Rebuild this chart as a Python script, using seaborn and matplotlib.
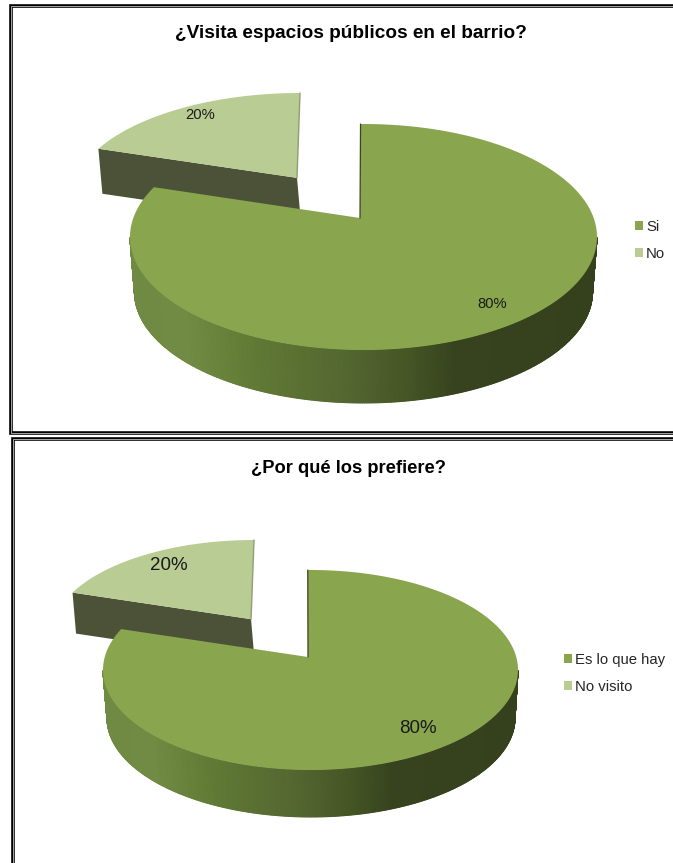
import numpy as np
import matplotlib
matplotlib.use("Agg")
import matplotlib.pyplot as plt
from matplotlib.colors import LinearSegmentedColormap
from matplotlib.patches import Patch
import seaborn as sns

# Survey answers, in percent
visita_labels = ["Si", "No"]
visita_values = [80, 20]
prefiere_labels = ["Es lo que hay", "No visito"]
prefiere_values = [80, 20]

TOP_GREEN = "#89A54E"
LIGHT_GREEN = "#B9CC94"
WALL_DARK = "#4C5237"
RIM_STOPS = ["#6F8A42", "#718B44", "#617A35", "#526530", "#455525", "#37431E", "#35401C"]
RIM_POS = [0.0, 0.12, 0.26, 0.48, 0.60, 0.70, 1.0]

sns.set_theme(style="white")
plt.rcParams["font.family"] = ["Liberation Sans", "DejaVu Sans"]
rim_cmap = LinearSegmentedColormap.from_list("rim", list(zip(RIM_POS, RIM_STOPS)))


def project(theta, radius, disc):
    """Map polar pie coordinates (clockwise from north) onto the tilted disc."""
    theta = np.asarray(theta, dtype=float) + disc.get("rot", 0.0)
    u, v = radius * np.sin(theta), radius * np.cos(theta)
    d = disc["shift"]
    denom = 1 + d * v
    up = u * np.sqrt(1 - d ** 2) / denom
    vp = (v + d) / denom
    x = disc["cx"] + disc["rx"] * up - disc.get("lean", 0) * (1 - vp)
    x = x + disc.get("apex_dx", 0) * (1 - radius)
    y = disc["cy"] - disc["ry"] * vp
    return x, y


def draw_rim(ax, stop, top, bottom):
    """Extruded outer wall of a slice, shaded smoothly from left to right."""
    # The wall shows only between the disc's two horizontal extremes
    rot = top.get("rot", 0.0)
    extreme = np.arccos(-top["shift"])
    first = extreme - rot
    last = min(stop, 2 * np.pi - extreme - rot)
    angles = np.linspace(first, last, 400)
    xt, yt = project(angles, 1.0, top)
    xb, yb = project(angles, 1.0, bottom)
    x0, x1 = top["cx"] - top["rx"], top["cx"] + top["rx"]
    shade = (xt - x0) / (x1 - x0)
    ax.pcolormesh(np.vstack([xt, xb]), np.vstack([yt, yb]), np.vstack([shade, shade]),
                  shading="gouraud", cmap=rim_cmap, vmin=0, vmax=1, zorder=3)


def draw_face(ax, start, stop, disc, color, zorder):
    angles = np.linspace(start, stop, 300)
    xs, ys = project(angles, 1.0, disc)
    ax_, ay_ = project(0.0, 0.0, disc)
    ax.fill(np.r_[ax_, xs], np.r_[ay_, ys], color=color, lw=0, zorder=zorder)


def draw_chart(ax, values, labels, geo, title, title_size, label_size, legend_anchor):
    total = sum(values)
    main_sweep = 2 * np.pi * values[0] / total
    main, main_low = geo["main"], geo["main_low"]
    small, small_low = geo["small"], geo["small_low"]

    # Pulled-out slice: dark radial wall, then its top face
    tip_x, tip_y = project(main_sweep, 1.0, small)
    apex_x, apex_y = project(0.0, 0.0, small)
    tip_bx, tip_by = project(main_sweep, 1.0, small_low)
    apex_bx, apex_by = project(0.0, 0.0, small_low)
    ax.fill([tip_x, apex_x, apex_bx, tip_bx], [tip_y, apex_y, apex_by, tip_by],
            color=WALL_DARK, lw=0, zorder=1)
    draw_face(ax, main_sweep, 2 * np.pi, small, LIGHT_GREEN, 2)
    north_x, north_y = project(0.0, 1.0, small)
    ax.plot([north_x, apex_x], [north_y, apex_y], color="#8F9F72", lw=1.0, zorder=2)

    # Main slice: outer wall, thin inner wall, top face
    draw_rim(ax, main_sweep, main, main_low)
    draw_face(ax, 0, main_sweep, main, TOP_GREEN, 4)
    north_x, north_y = project(0.0, 1.0, main)
    apex_x, apex_y = project(0.0, 0.0, main)
    ax.plot([north_x, apex_x], [north_y, apex_y], color="#3A4420", lw=0.9, zorder=5)

    for text, (tx, ty) in zip([f"{v}%" for v in values], geo["label_xy"]):
        ax.text(tx, ty, text, ha="center", va="center", fontsize=label_size,
                color="#1A1A1A", zorder=6)

    ax.text(geo["title_xy"][0], geo["title_xy"][1], title, ha="center", va="center",
            fontsize=title_size, fontweight="bold", color="black", zorder=6)

    handles = [Patch(facecolor=c, edgecolor="none") for c in (TOP_GREEN, LIGHT_GREEN)]
    ax.legend(handles, labels, loc="upper left", bbox_to_anchor=legend_anchor,
              bbox_transform=ax.transData, frameon=False, fontsize=10.7,
              handlelength=0.54, handleheight=0.54, handletextpad=0.2,
              labelspacing=0.85, borderpad=0, borderaxespad=0, labelcolor="#262626")


def draw_frame(ax, left, top, bottom=None):
    """Double rule around a panel; open where it runs off the canvas."""
    xs = [673, left, left] + ([673] if bottom is not None else [])
    ys = [top, top, bottom if bottom is not None else 863] + ([bottom] if bottom is not None else [])
    ax.plot(xs, ys, color="black", lw=2.6, zorder=7, solid_joinstyle="miter")
    ax.plot(xs, ys, color="#BDBDBD", lw=0.6, zorder=8, solid_joinstyle="miter")


GEO_VISITA = {
    "main": dict(cx=363.5, cy=237, rx=233.5, ry=113, shift=0.168, rot=-0.015, apex_dx=-3.5),
    "main_low": dict(cx=363.5, cy=292, rx=229, ry=111, shift=0.168, rot=-0.015, apex_dx=-3.5),
    "small": dict(cx=300, cy=195, rx=224, ry=102, shift=0.168, lean=3.6),
    "small_low": dict(cx=304, cy=240, rx=224, ry=102, shift=0.168, lean=3.6),
    "label_xy": [(492, 304), (200, 115)],
    "title_xy": (350.5, 33),
}
GEO_PREFIERE = {
    "main": dict(cx=310.5, cy=670, rx=207.5, ry=100, shift=0.13, rot=-0.015, apex_dx=-2.5),
    "main_low": dict(cx=311, cy=718, rx=204, ry=99, shift=0.13, rot=-0.015, apex_dx=-2.5),
    "small": dict(cx=254, cy=631, rx=198, ry=91, shift=0.13, lean=3.4),
    "small_low": dict(cx=257.5, cy=672, rx=198, ry=91, shift=0.13, lean=3.4),
    "label_xy": [(418, 728), (169, 565)],
    "title_xy": (348, 468),
}

fig = plt.figure(figsize=(6.73, 8.63), dpi=100, facecolor="white")
panel_top = fig.add_axes([0, (863 - 435.5) / 863, 1, 435.5 / 863])
panel_bot = fig.add_axes([0, 0, 1, (863 - 435.5) / 863])
panel_top.set_xlim(0, 673)
panel_top.set_ylim(435.5, 0)
panel_bot.set_xlim(0, 673)
panel_bot.set_ylim(863, 435.5)
for panel in (panel_top, panel_bot):
    panel.axis("off")

draw_frame(panel_top, 11, 6.5, 433)
draw_frame(panel_bot, 13, 438.5)
draw_chart(panel_top, visita_values, visita_labels, GEO_VISITA,
           "¿Visita espacios públicos en el barrio?", 13.65, 10.6, (635, 220))
draw_chart(panel_bot, prefiere_values, prefiere_labels, GEO_PREFIERE,
           "¿Por qué los prefiere?", 13.2, 13.5, (564, 653))

fig.savefig("out.png", dpi=100)
